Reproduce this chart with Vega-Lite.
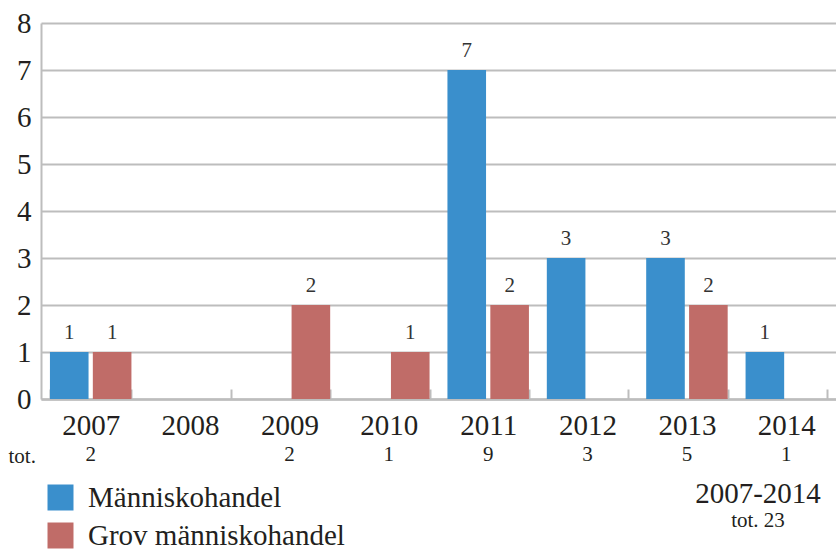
{
  "$schema": "https://vega.github.io/schema/vega-lite/v6.json",
  "width": 795,
  "height": 376,
  "autosize": {"type": "none"},
  "padding": {"left": 41, "top": 23, "right": 0, "bottom": 151},
  "config": {"font": "Liberation Serif", "view": {"stroke": null}},
  "datasets": {
    "bars": [
      {"year": "2007", "series": "Människohandel", "value": 1},
      {"year": "2007", "series": "Grov människohandel", "value": 1},
      {"year": "2009", "series": "Grov människohandel", "value": 2},
      {"year": "2010", "series": "Grov människohandel", "value": 1},
      {"year": "2011", "series": "Människohandel", "value": 7},
      {"year": "2011", "series": "Grov människohandel", "value": 2},
      {"year": "2012", "series": "Människohandel", "value": 3},
      {"year": "2013", "series": "Människohandel", "value": 3},
      {"year": "2013", "series": "Grov människohandel", "value": 2},
      {"year": "2014", "series": "Människohandel", "value": 1}
    ],
    "totals": [
      {"year": "2007", "total": "2"},
      {"year": "2009", "total": "2"},
      {"year": "2010", "total": "1"},
      {"year": "2011", "total": "9"},
      {"year": "2012", "total": "3"},
      {"year": "2013", "total": "5"},
      {"year": "2014", "total": "1"}
    ]
  },
  "title": {
    "text": "2007-2014",
    "subtitle": "tot. 23",
    "orient": "bottom",
    "anchor": "end",
    "align": "center",
    "dx": -78,
    "dy": -75,
    "fontSize": 29,
    "fontWeight": "normal",
    "subtitleFontSize": 21,
    "color": "#231f20",
    "subtitleColor": "#231f20",
    "font": "Liberation Serif",
    "subtitleFont": "Liberation Serif",
    "subtitlePadding": 1
  },
  "layer": [
    {
      "data": {"name": "bars"},
      "mark": {"type": "bar"},
      "encoding": {
        "x": {
          "field": "year",
          "type": "nominal",
          "scale": {"domain": ["2007", "2008", "2009", "2010", "2011", "2012", "2013", "2014"], "paddingInner": 0.18, "paddingOuter": 0.09},
          "axis": {
            "title": null,
            "labelAngle": 0,
            "labelFontSize": 29,
            "labelColor": "#231f20",
            "labelPadding": 22,
            "domainColor": "#bdbdbd",
            "domainWidth": 2.5,
            "ticks": true,
            "tickBand": "extent",
            "tickSize": -10,
            "tickColor": "#bdbdbd",
            "tickWidth": 2,
            "grid": false
          }
        },
        "xOffset": {"field": "series", "scale": {"domain": ["Människohandel", "Grov människohandel"], "paddingInner": 0.1}},
        "y": {
          "field": "value",
          "type": "quantitative",
          "scale": {"domain": [0, 8]},
          "axis": {
            "tickCount": 8,
            "grid": true,
            "gridColor": "#bdbdbd",
            "gridWidth": 2,
            "domainColor": "#bdbdbd",
            "domainWidth": 2,
            "ticks": false,
            "labelFontSize": 29,
            "labelColor": "#231f20",
            "labelPadding": 10,
            "title": "tot.",
            "titleAngle": 0,
            "titleX": -33,
            "titleY": 433,
            "titleAlign": "left",
            "titleBaseline": "middle",
            "titleFontSize": 21,
            "titleFontWeight": "normal",
            "titleColor": "#231f20"
          }
        },
        "color": {
          "field": "series",
          "type": "nominal",
          "scale": {"domain": ["Människohandel", "Grov människohandel"], "range": ["#3a8fcc", "#c06c68"]},
          "legend": {
            "orient": "none",
            "legendX": 5,
            "legendY": 460,
            "title": null,
            "symbolType": "square",
            "symbolSize": 676,
            "symbolStrokeWidth": 0,
            "labelFontSize": 29,
            "labelColor": "#231f20",
            "labelLimit": 0,
            "rowPadding": 8,
            "labelOffset": 13
          }
        }
      }
    },
    {
      "data": {"name": "bars"},
      "mark": {"type": "text", "baseline": "alphabetic", "dy": -13, "fontSize": 21, "color": "#333333"},
      "encoding": {
        "x": {"field": "year", "type": "nominal"},
        "xOffset": {"field": "series"},
        "y": {"field": "value", "type": "quantitative"},
        "text": {"field": "value"}
      }
    },
    {
      "data": {"name": "totals"},
      "mark": {"type": "text", "baseline": "middle", "fontSize": 21, "color": "#231f20"},
      "encoding": {
        "x": {"field": "year", "type": "nominal"},
        "y": {"datum": -1.2},
        "text": {"field": "total"}
      }
    }
  ]
}
